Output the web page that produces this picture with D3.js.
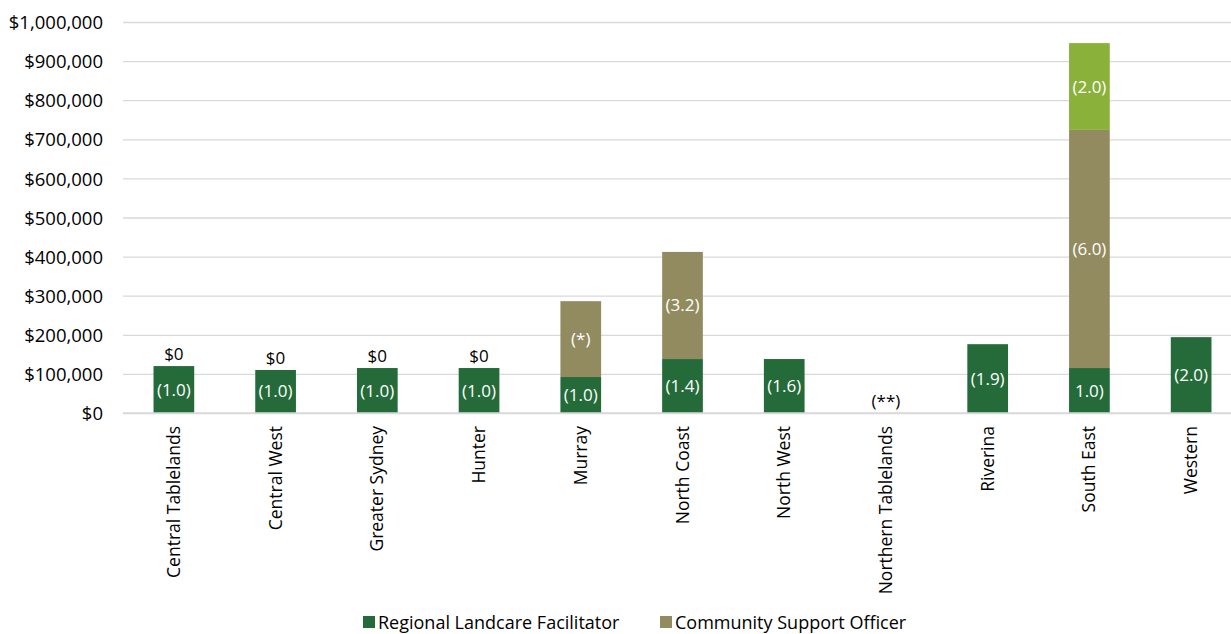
<!DOCTYPE html>
<html>
<head>
<meta charset="utf-8">
<script src="https://cdn.jsdelivr.net/npm/d3@7"></script>
<style>
  body { margin: 0; background: #fff; overflow: hidden; }
  svg { display: block; font-family: "Open Sans", "Liberation Sans", sans-serif; }
  .ytick text { font-size: 18.5px; font-family: "Open Sans", sans-serif; fill: #000; }
</style>
</head>
<body>
<div id="chart"></div>
<script>
// data
const regions = ["Central Tablelands", "Central West", "Greater Sydney", "Hunter", "Murray",
  "North Coast", "North West", "Northern Tablelands", "Riverina", "South East", "Western"];
const rlfValues = [120000, 110000, 115000, 115000, 92000, 138000, 138000, 0, 176000, 115000, 194000];
const csoValues = [0, 0, 0, 0, 194000, 274000, 0, 0, 0, 609000, 0];
const extraValues = [0, 0, 0, 0, 0, 0, 0, 0, 0, 222000, 0];
const rlfLabels = ["(1.0)", "(1.0)", "(1.0)", "(1.0)", "(1.0)", "(1.4)", "(1.6)", "", "(1.9)", "1.0)", "(2.0)"];
const csoLabels = ["", "", "", "", "(*)", "(3.2)", "", "", "", "(6.0)", ""];
const extraLabels = ["", "", "", "", "", "", "", "", "", "(2.0)", ""];
const topLabels = ["$0", "$0", "$0", "$0", "", "", "", "(**)", "", "", ""];
const yTicks = [0, 100000, 200000, 300000, 400000, 500000, 600000, 700000, 800000, 900000, 1000000];
const legendNames = ["Regional Landcare Facilitator", "Community Support Officer"];

function drawChart(cWidth, cHeight) {
  const colors = ["#246b39", "#928b60", "#8ab13a"],
    svg = d3.select("#chart").append("svg")
      .attr("width", cWidth).attr("height", cHeight);

  const x = d3.scaleBand().domain(regions).range([123, 1242]).paddingInner(0.6).paddingOuter(0.3),
    y = d3.scaleLinear().domain([0, 1000000]).range([413, 22]);

  // gridlines + y labels
  const yAxis = svg.append("g").attr("class", "ytick").attr("transform", "translate(123,0)")
    .call(d3.axisLeft(y).tickValues(yTicks).tickSize(-1120).tickPadding(20)
      .tickFormat(d => "$" + d3.format(",")(d)));
  yAxis.select(".domain").remove();
  yAxis.attr("font-size", null).attr("font-family", null);
  yAxis.selectAll(".tick line").attr("stroke", "#d9d9d9").attr("stroke-width", 1.3);
  yAxis.selectAll(".tick text").attr("dy", "0.36em");

  // stacked bars
  const rows = regions.map((r, i) => ({ region: r, rlf: rlfValues[i], cso: csoValues[i], extra: extraValues[i] }));
  const stack = d3.stack().keys(["rlf", "cso", "extra"])(rows);
  const labelSets = [rlfLabels, csoLabels, extraLabels];

  stack.forEach((layer, k) => {
    svg.append("g").selectAll("rect").data(layer).enter().append("rect")
      .attr("x", d => x(d.data.region))
      .attr("width", x.bandwidth())
      .attr("y", d => y(d[1]))
      .attr("height", d => y(d[0]) - y(d[1]))
      .attr("fill", colors[k]);
    svg.append("g").selectAll("text").data(layer).enter().append("text")
      .attr("x", d => x(d.data.region) + x.bandwidth() / 2)
      .attr("y", d => (y(d[0]) + y(d[1])) / 2 + 6)
      .attr("text-anchor", "middle")
      .attr("fill", "#fff")
      .attr("font-size", 17)
      .text((d, i) => labelSets[k][i]);
  });

  // labels above bars
  svg.append("g").selectAll("text").data(rows).enter().append("text")
    .attr("x", d => x(d.region) + x.bandwidth() / 2)
    .attr("y", d => y(d.rlf + d.cso + d.extra) - 6)
    .attr("text-anchor", "middle")
    .attr("fill", "#000")
    .attr("font-size", 17)
    .text((d, i) => topLabels[i]);

  // baseline
  svg.append("line").attr("x1", 123).attr("x2", 1243)
    .attr("y1", y(0)).attr("y2", y(0)).attr("stroke", "#d9d9d9").attr("stroke-width", 1.3);

  // rotated category labels
  svg.append("g").selectAll("text").data(regions).enter().append("text")
    .attr("transform", d => `translate(${x(d) + x.bandwidth() / 2 + 6}, 426) rotate(-90)`)
    .attr("text-anchor", "end")
    .attr("fill", "#000")
    .attr("font-size", 17.5)
    .text(d => d);

  // legend
  const legendX = [363, 660];
  legendNames.forEach((name, i) => {
    svg.append("rect").attr("x", legendX[i]).attr("y", 616).attr("width", 12).attr("height", 12)
      .attr("fill", colors[i]);
    svg.append("text").attr("x", legendX[i] + 15).attr("y", 629)
      .attr("font-size", 18).attr("fill", "#000").text(name);
  });
}

drawChart(1231, 634);
</script>
</body>
</html>
